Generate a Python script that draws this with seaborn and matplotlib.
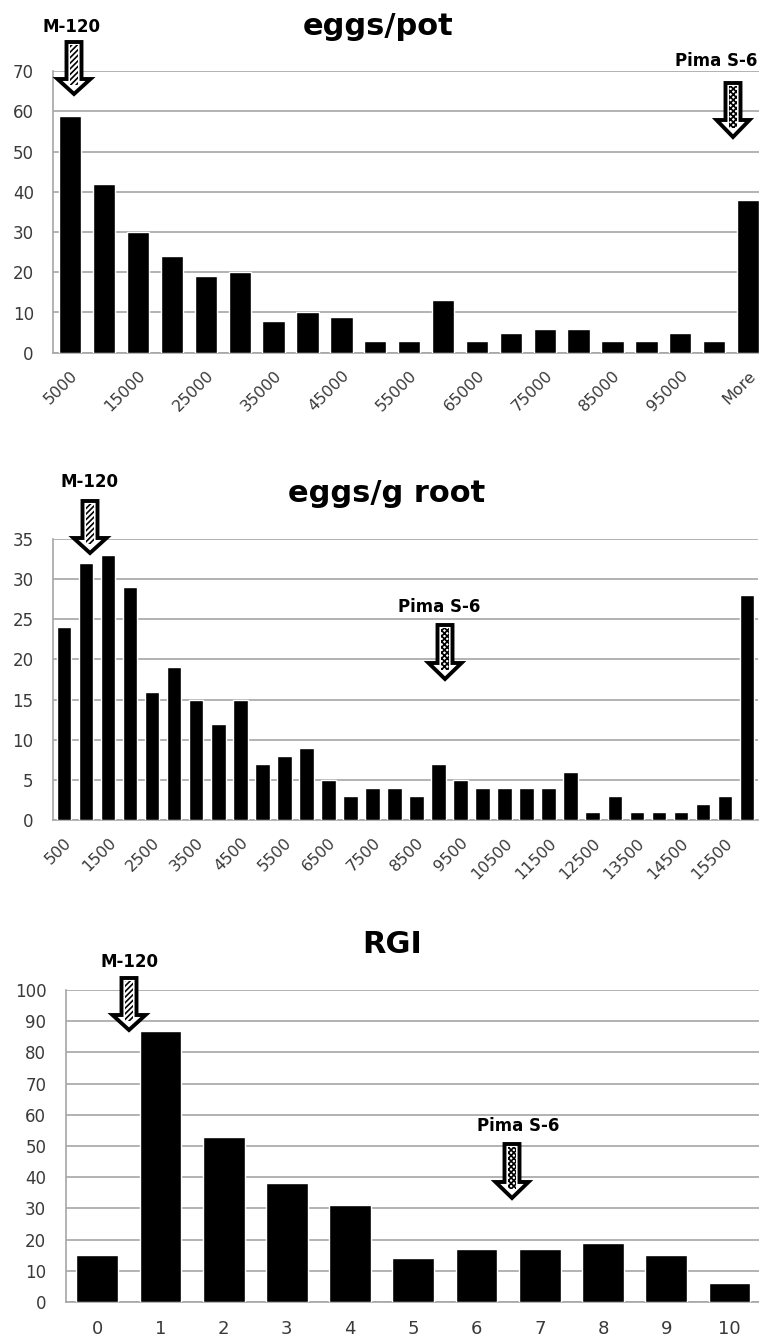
import matplotlib
matplotlib.use("Agg")
import matplotlib.pyplot as plt
import matplotlib.transforms as mtransforms
from matplotlib.patches import Polygon
import seaborn as sns

# ------------------------------------------------------------------
# DATA (histogram counts)
# ------------------------------------------------------------------
pot_bins = ['5000', '10000', '15000', '20000', '25000', '30000', '35000',
            '40000', '45000', '50000', '55000', '60000', '65000', '70000',
            '75000', '80000', '85000', '90000', '95000', '100000', 'More']
pot_counts = [59, 42, 30, 24, 19, 20, 8, 10, 9, 3, 3, 13, 3, 5, 6, 6, 3, 3, 5, 3, 38]

root_bins = ['500', '1000', '1500', '2000', '2500', '3000', '3500', '4000',
             '4500', '5000', '5500', '6000', '6500', '7000', '7500', '8000',
             '8500', '9000', '9500', '10000', '10500', '11000', '11500',
             '12000', '12500', '13000', '13500', '14000', '14500', '15000',
             '15500', 'More']
root_counts = [24, 32, 33, 29, 16, 19, 15, 12, 15, 7, 8, 9, 5, 3, 4, 4, 3, 7,
               5, 4, 4, 4, 4, 6, 1, 3, 1, 1, 1, 2, 3, 28]

rgi_bins = ['0', '1', '2', '3', '4', '5', '6', '7', '8', '9', '10']
rgi_counts = [15, 87, 53, 38, 31, 14, 17, 17, 19, 15, 6]

# ------------------------------------------------------------------
# STYLE
# ------------------------------------------------------------------
W, H = 759, 1338
GRID = '#a6a6a6'
TXT = '#3a3a3a'

sns.set_theme(style="white")
plt.rcParams['font.family'] = ['DejaVu Sans']
plt.rcParams['hatch.linewidth'] = 1.2

fig = plt.figure(figsize=(W / 100, H / 100), dpi=100)
# pixel coordinates (origin top-left) for annotations
px = mtransforms.Affine2D().scale(1 / W, -1 / H).translate(0, 1) + fig.transFigure


def add_axes_px(left, top, right, bottom):
    return fig.add_axes([left / W, 1 - bottom / H, (right - left) / W, (bottom - top) / H])


def histo(ax, bins, counts, ymax, ystep, every=1, rotate=True):
    sns.barplot(x=bins, y=counts, color='black', saturation=1, width=0.66,
                ax=ax, zorder=3)
    n = len(bins)
    ax.set_xlim(-0.5, n - 0.5)
    ax.set_ylim(0, ymax)
    ax.set_yticks(range(0, ymax + 1, ystep))
    ax.set_xticks(range(n))
    ax.set_xticklabels([b if i % every == 0 else '' for i, b in enumerate(bins)])
    ax.set_xticks([i - 0.5 for i in range(n + 1)], minor=True)
    ax.tick_params(axis='x', which='major', length=0, pad=11, labelsize=11.5, colors=TXT)
    ax.tick_params(axis='x', which='minor', length=6, width=1, color=GRID, direction='out')
    ax.tick_params(axis='y', length=6, width=1, color=GRID, labelsize=12,
                   labelcolor=TXT, pad=8)
    if rotate:
        for lbl in ax.get_xticklabels():
            lbl.set_rotation(45)
            lbl.set_ha('right')
            lbl.set_va('top')
            lbl.set_rotation_mode('anchor')
    ax.yaxis.grid(True, color=GRID, lw=1.2, zorder=0)
    ax.xaxis.grid(False)
    for side in ('top', 'right'):
        ax.spines[side].set_visible(False)
    for side in ('left', 'bottom'):
        ax.spines[side].set_color(GRID)
        ax.spines[side].set_linewidth(1.2)
    ax.set_xlabel('')
    ax.set_ylabel('')


def marker_arrow(cx, top, tip, hatch, shaft_w=15, head_w=33, head_h=16):
    neck = tip - head_h
    outline = [(cx - shaft_w / 2, top), (cx + shaft_w / 2, top), (cx + shaft_w / 2, neck),
               (cx + head_w / 2, neck), (cx, tip), (cx - head_w / 2, neck),
               (cx - shaft_w / 2, neck)]
    fig.add_artist(Polygon(outline, closed=True, transform=px, facecolor='white',
                           edgecolor='black', lw=2.8, joinstyle='miter', zorder=10))
    iw = shaft_w / 2 - 3.5
    inner = [(cx - iw, top + 3), (cx + iw, top + 3), (cx + iw, tip - 9),
             (cx - iw, tip - 9)]
    fig.add_artist(Polygon(inner, closed=True, transform=px, facecolor='white',
                           edgecolor='black', hatch=hatch, lw=0, zorder=11))


def label(x, y, s, ha='center'):
    fig.text(x / W, 1 - y / H, s, ha=ha, va='baseline', fontsize=12,
             fontweight='bold', color='black')


def title(x, y, s):
    fig.text(x / W, 1 - y / H, s, ha='center', va='baseline', fontsize=22,
             fontweight='bold', color='black')


# ------------------------------------------------------------------
# PANEL 1: eggs/pot
# ------------------------------------------------------------------
ax1 = add_axes_px(53.3, 71.3, 765, 352.7)
histo(ax1, pot_bins, pot_counts, 70, 10, every=2)
title(378, 35, 'eggs/pot')
label(72, 32, 'M-120')
marker_arrow(74, 42, 94, '//////', head_h=15)
label(757, 66, 'Pima S-6', ha='right')
marker_arrow(733, 83, 137, 'xxxxxx', head_h=17)

# ------------------------------------------------------------------
# PANEL 2: eggs/g root
# ------------------------------------------------------------------
ax2 = add_axes_px(53, 539, 758, 820)
histo(ax2, root_bins, root_counts, 35, 5, every=2)
title(387, 502, 'eggs/g root')
label(89, 487, 'M-120')
marker_arrow(90, 501, 553, '//////', head_h=15)
label(439, 612, 'Pima S-6')
marker_arrow(445, 625, 679, 'xxxxxx', head_h=16)

# ------------------------------------------------------------------
# PANEL 3: RGI
# ------------------------------------------------------------------
ax3 = add_axes_px(65.7, 990, 761, 1302)
histo(ax3, rgi_bins, rgi_counts, 100, 10, every=1, rotate=False)
ax3.tick_params(axis='x', which='major', pad=13, labelsize=13)
title(392, 953, 'RGI')
label(129, 967, 'M-120')
marker_arrow(129, 978, 1030, '//////', head_h=15)
label(518, 1131, 'Pima S-6')
marker_arrow(512, 1144, 1198, 'xxxxxx', head_h=16)

fig.savefig('out.png', dpi=100)
plt.close(fig)
